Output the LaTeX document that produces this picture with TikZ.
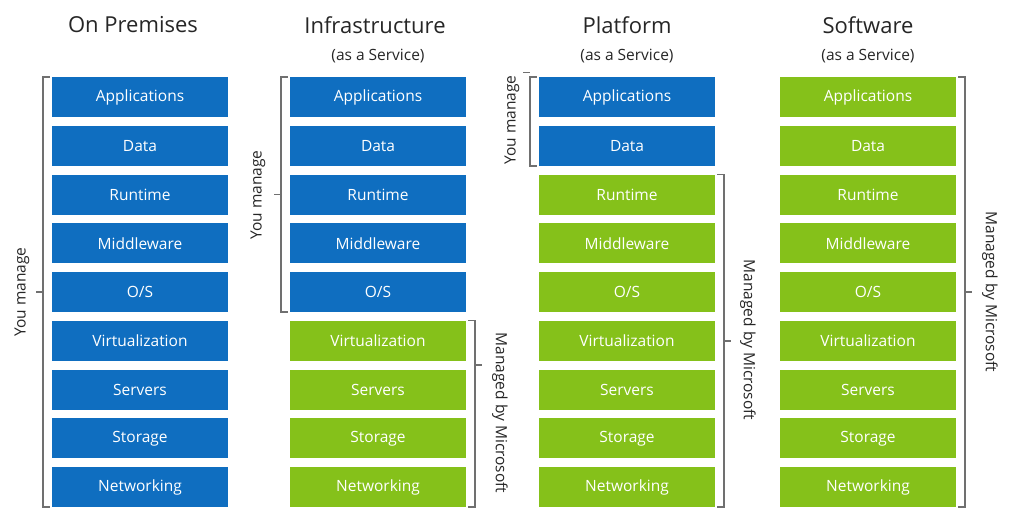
\documentclass[tikz,border=0pt]{standalone}
\usepackage{fontspec}
\setmainfont{Open Sans}
\definecolor{msblue}{HTML}{0F6EC0}
\definecolor{msgreen}{HTML}{85C11A}
\definecolor{brk}{HTML}{707070}
\begin{document}
\begin{tikzpicture}[x=1pt,y=-1pt,
  box/.style={minimum width=176pt,minimum height=40pt,inner sep=0pt,text=white,font=\fontsize{15.5}{18}\selectfont},
  ttl/.style={font=\fontsize{22}{26}\selectfont,text=black!85},
  sub/.style={font=\fontsize{15.5}{18}\selectfont,text=black!85},
  lab/.style={font=\fontsize{15.5}{18}\selectfont,text=black!85},
  br/.style={draw=brk,line width=1.6pt}]
\useasboundingbox (0,0) rectangle (1024,517);
\def\names{Applications,Data,Runtime,Middleware,O/S,Virtualization,Servers,Storage,Networking}
\foreach \c/\x/\nb in {1/140/9,2/378/5,3/627/2,4/868/0}{
  \foreach \t [count=\i] in \names {
    \ifnum\i>\nb \def\col{msgreen}\else\def\col{msblue}\fi
    \node[box,fill=\col] (c\c r\i) at (\x,{97+(\i-1)*48.75}) {\t};
  }
}
\node[ttl] (t1) at (133,25) {On Premises};
\node[ttl] (t2) at (375,25) {Infrastructure};
\node[sub] (s2) at (378,56) {(as a Service)};
\node[ttl] (t3) at (627,25) {Platform};
\node[sub] (s3) at (627,56) {(as a Service)};
\node[ttl] (t4) at (868,25) {Software};
\node[sub] (s4) at (868,56) {(as a Service)};
% left brackets
\draw[br] ([xshift=-2pt]c1r1.north west) -- ++(-7,0) coordinate (a1) -- (a1 |- c1r9.south) -- ++(7,0);
\draw[br] ([xshift=-9pt]c1r1.west |- 292,292) -- ++(-7,0);
\node[lab,rotate=90] (y1) at (22,292) {You manage};
\draw[br] ([xshift=-2pt]c2r1.north west) -- ++(-7,0) coordinate (a2) -- (a2 |- c2r5.south) -- ++(7,0);
\draw[br] ([xshift=-9pt]c2r3.west) -- ++(-7,0);
\node[lab,rotate=90] (y2) at (258,195) {You manage};
\draw[br] ([xshift=-2pt]c3r1.north west) -- ++(-7,0) coordinate (a3) -- (a3 |- c3r2.south) -- ++(7,0);
\draw[br] ([xshift=-9pt,yshift=24.4pt]c3r1.west) -- ++(-7,0);
\node[lab,rotate=90] (y3) at (512,120) {You manage};
% right brackets
\draw[br] ([xshift=2pt]c2r6.north east) -- ++(7,0) coordinate (b2) -- (b2 |- c2r9.south) -- ++(-7,0);
\draw[br] ([xshift=9pt,yshift=24.4pt]c2r7.east) -- ++(7,0);
\node[lab,rotate=-90] (m2) at (500,413) {Managed by Microsoft};
\draw[br] ([xshift=2pt]c3r3.north east) -- ++(7,0) coordinate (b3) -- (b3 |- c3r9.south) -- ++(-7,0);
\draw[br] ([xshift=9pt]c3r6.east) -- ++(7,0);
\node[lab,rotate=-90] (m3) at (748,340) {Managed by Microsoft};
\draw[br] ([xshift=2pt]c4r1.north east) -- ++(7,0) coordinate (b4) -- (b4 |- c4r9.south) -- ++(-7,0);
\draw[br] ([xshift=9pt]c4r5.east) -- ++(7,0);
\node[lab,rotate=-90] (m4) at (990,292) {Managed by Microsoft};
\end{tikzpicture}
\end{document}
